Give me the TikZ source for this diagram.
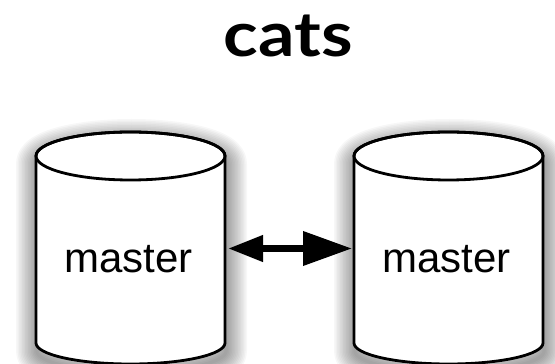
\documentclass[tikz,border=0pt]{standalone}
\usepackage{fontspec}
\setmainfont{Liberation Sans}
\newfontfamily\titlefont{Lato}
\usetikzlibrary{arrows.meta}

\tikzset{
  cylline/.style={draw=black, line width=2.8pt, fill=white, line join=round},
  shadowring/.style={draw=black, line width=#1, opacity=0.032, line join=round},
  dbname/.style={font=\fontsize{42}{48}\selectfont, anchor=base, inner sep=0pt},
  titletext/.style={font=\titlefont\bfseries\fontsize{62}{68}\selectfont, anchor=base, inner sep=0pt, xscale=1.16},
  sync/.style={line width=7pt, {Triangle[length=35pt,width=25pt]}-{Triangle[length=49pt,width=33pt]}},
}

% a database drum: centre x, half width, top y, bottom y, top/bottom ellipse radii
\newcommand\drumoutline[6]{
  (#1-#2,#3) arc[start angle=180, end angle=0, x radius=#2, y radius=#5]
  -- (#1+#2,#4) arc[start angle=0, end angle=-180, x radius=#2, y radius=#6] -- cycle
}

\begin{document}
\begin{tikzpicture}[x=1pt,y=1pt]
  \useasboundingbox (0,0) rectangle (555,364);

  % soft drop shadows
  \foreach \cx in {130.5,448.5}{
    \foreach \w in {1,...,14}{
      \path[shadowring={3*\w pt}, shift={(1,-8)}] \drumoutline{\cx}{94.5}{208}{21}{24}{21};
    }
  }

  % drums
  \foreach \cx in {130.5,448.5}{
    \path[cylline] \drumoutline{\cx}{94.5}{208}{21}{24}{21};
    \draw[line width=2.8pt] (\cx,208) ellipse[x radius=94.5, y radius=24];
  }

  \node[titletext, transform shape] (title) at (288.5,307) {cats};
  \node[dbname] (m1) at (128.5,91) {master};
  \node[dbname] (m2) at (446.5,91) {master};

  \coordinate (endL) at (228,115.5);
  \coordinate (endR) at (352,115.5);
  \draw[sync] (endL) -- (endR);
\end{tikzpicture}
\end{document}
